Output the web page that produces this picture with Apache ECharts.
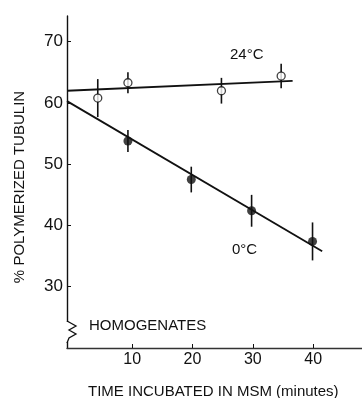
<!DOCTYPE html>
<html>
<head>
<meta charset="utf-8">
<script src="https://cdn.jsdelivr.net/npm/echarts@6/dist/echarts.min.js"></script>
<style>
  html, body { margin: 0; padding: 0; background: #fff; }
  #chart { width: 362px; height: 398px; }
</style>
</head>
<body>
<div id="chart"></div>
<script>
// data
const warmTimes = [4.3, 9.3, 24.8, 34.7];
const warmValues = [60.8, 63.3, 62.0, 64.4];
const warmErr = [3.1, 1.7, 2.1, 2.0];

const coldTimes = [9.3, 19.8, 29.8, 39.9];
const coldValues = [53.8, 47.5, 42.4, 37.4];
const coldErr = [1.8, 2.1, 2.6, 3.1];

// regression lines (end points)
const warmFit = [[-0.8, 62.0], [36.6, 63.6]];
const coldFit = [[-0.8, 60.3], [41.5, 35.8]];

const xTicks = [10, 20, 30, 40];
const yTicks = [30, 40, 50, 60, 70];

const FONT = "Liberation Sans";
const INK = "#111";

const pts = (xs, ys) => xs.map((x, i) => [x, ys[i]]);
const errData = (xs, ys, es) => xs.map((x, i) => [x, ys[i] - es[i], ys[i] + es[i]]);

function errBars(data) {
  return {
    type: "custom",
    data: data,
    z: 3,
    renderItem: (params, api) => {
      const lo = api.coord([api.value(0), api.value(1)]);
      const hi = api.coord([api.value(0), api.value(2)]);
      return {
        type: "line",
        shape: { x1: lo[0], y1: lo[1], x2: hi[0], y2: hi[1] },
        style: { stroke: INK, lineWidth: 1.6 }
      };
    }
  };
}

const chart = echarts.init(document.getElementById("chart"));

const option = {
  animation: false,
  grid: { left: 67, right: 0, top: 16, bottom: 50 },
  xAxis: {
    type: "value",
    min: -0.8,
    max: 48.1,
    axisLine: { onZero: false, lineStyle: { color: "#333", width: 1.4 } },
    axisTick: { inside: true, length: 4, customValues: xTicks, lineStyle: { color: INK } },
    axisLabel: { customValues: xTicks, color: INK, fontFamily: FONT, fontSize: 16, margin: 4 },
    splitLine: { show: false }
  },
  yAxis: {
    type: "value",
    min: 20,
    max: 74.2,
    axisLine: { show: true, onZero: false, lineStyle: { color: INK, width: 1.4 } },
    axisTick: { show: true, inside: true, length: 4, customValues: yTicks, lineStyle: { color: INK } },
    axisLabel: { customValues: yTicks, color: INK, fontFamily: FONT, fontSize: 17, margin: 4 },
    splitLine: { show: false }
  },
  series: [
    {
      type: "line",
      data: warmFit,
      symbol: "none",
      lineStyle: { color: INK, width: 1.8 },
      z: 2
    },
    {
      type: "line",
      data: coldFit,
      symbol: "none",
      lineStyle: { color: INK, width: 1.8 },
      z: 2
    },
    errBars(errData(warmTimes, warmValues, warmErr)),
    errBars(errData(coldTimes, coldValues, coldErr)),
    {
      type: "scatter",
      data: pts(warmTimes, warmValues),
      symbol: "circle",
      symbolSize: 8,
      itemStyle: { color: "#fff", borderColor: INK, borderWidth: 1.3 },
      z: 4
    },
    {
      type: "scatter",
      data: pts(coldTimes, coldValues),
      symbol: "circle",
      symbolSize: 9,
      itemStyle: { color: INK },
      z: 4
    }
  ],
  graphic: [
    // axis break
    { type: "rect", shape: { x: 64, y: 322, width: 6, height: 20 }, style: { fill: "#fff" }, z: 100 },
    {
      type: "polyline",
      shape: { points: [[67, 321], [76, 326], [69, 330], [76, 334], [69, 338], [67, 343]] },
      style: { stroke: INK, lineWidth: 1.3, fill: null },
      z: 101
    },
    { type: "text", left: 230, top: 47, style: { text: "24°C", font: "15px " + FONT, fill: INK } },
    { type: "text", left: 232, top: 242, style: { text: "0°C", font: "15px " + FONT, fill: INK } },
    { type: "text", left: 89, top: 318, style: { text: "HOMOGENATES", font: "15px " + FONT, fill: INK } },
    { type: "text", left: 88, top: 384, style: { text: "TIME INCUBATED IN MSM (minutes)", font: "15px " + FONT, fill: INK } },
    {
      type: "text",
      x: 20,
      y: 187,
      rotation: Math.PI / 2,
      style: { text: "% POLYMERIZED TUBULIN", font: "15px " + FONT, fill: INK, align: "center", verticalAlign: "middle" }
    }
  ]
};

chart.setOption(option);
</script>
</body>
</html>
